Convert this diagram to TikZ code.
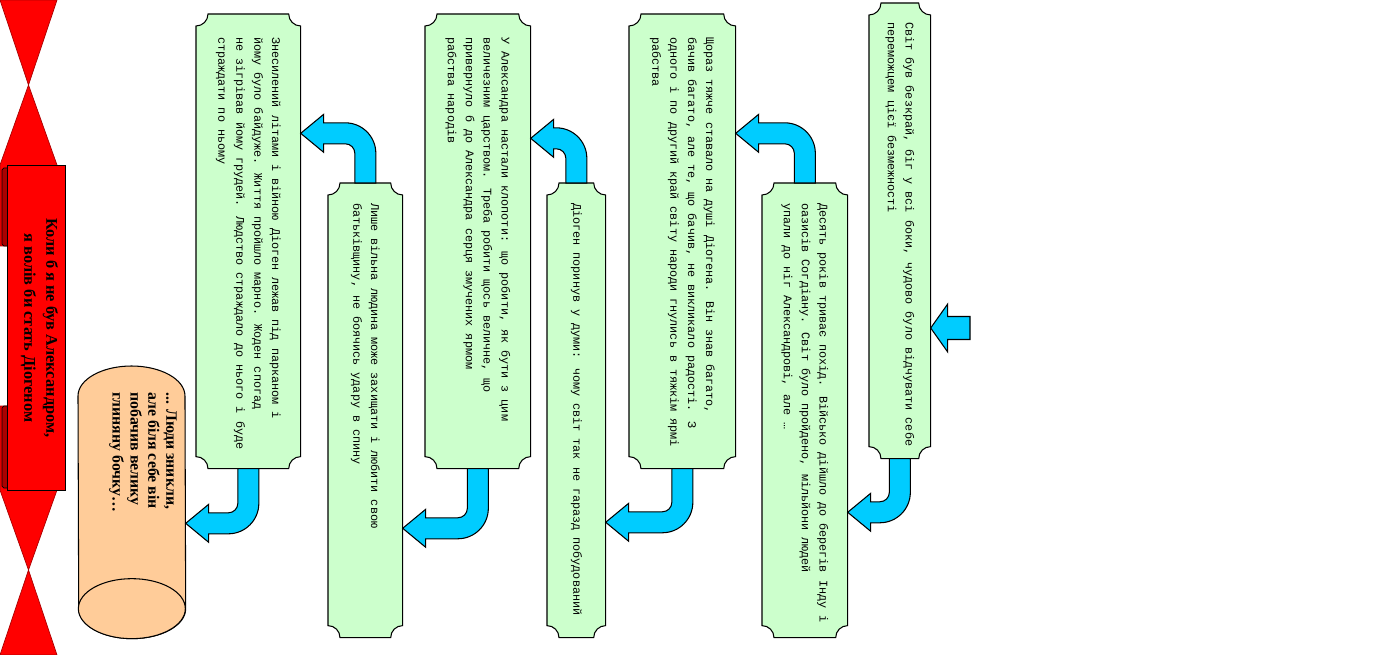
\documentclass[tikz,border=0pt]{standalone}
\usepackage{fontspec}
\setmainfont{Liberation Serif}
\newfontfamily\courfont{Liberation Mono}
\usetikzlibrary{calc}
\definecolor{boxgreen}{RGB}{204,255,204}
\definecolor{arrowcyan}{RGB}{0,204,255}
\definecolor{ribbonred}{RGB}{255,0,0}
\definecolor{folddark}{RGB}{170,0,0}
\definecolor{barrelpeach}{RGB}{255,204,153}
\newcommand{\plaqr}{0.24cm}
\newcommand{\awid}{0.21cm}
\newcommand{\ahead}{0.38cm}
\newcommand{\alen}{0.46cm}
\newcommand{\abend}{0.40cm}
\tikzset{
  plaque/.style={rectangle,inner sep=0pt,anchor=north west},
  plaqueline/.style={draw=black,fill=boxgreen,line width=0.6pt},
  boxtext/.style={rotate=-90,anchor=west,align=left,inner sep=0pt,
    font=\courfont\fontsize{6.7}{10.2}\selectfont},
  blockarrow/.style={draw=black,fill=arrowcyan,line width=0.6pt},
  ribbon/.style={fill=ribbonred,draw=folddark,line width=0.4pt},
  foldtab/.style={fill=folddark,draw=black,line width=0.4pt,rounded corners=1pt},
  banner/.style={rectangle,fill=ribbonred,draw=black,line width=0.6pt,inner sep=0pt,anchor=north west},
  bannertext/.style={rotate=-90,align=center,inner sep=0pt,
    font=\bfseries\fontsize{9.3}{12.5}\selectfont},
  barrelline/.style={draw=black,fill=barrelpeach,line width=0.6pt},
  barreltext/.style={rotate=-90,anchor=west,align=left,inner sep=0pt,
    font=\bfseries\fontsize{9}{10.2}\selectfont}
}
% green plaque round a box node
\newcommand{\plaque}[1]{%
  \draw[plaqueline] ([yshift=-\plaqr]#1.north west) arc[start angle=-90,end angle=0,radius=\plaqr]
    -- ([xshift=-\plaqr]#1.north east) arc[start angle=180,end angle=270,radius=\plaqr]
    -- ([yshift=\plaqr]#1.south east) arc[start angle=90,end angle=180,radius=\plaqr]
    -- ([xshift=\plaqr]#1.south west) arc[start angle=0,end angle=90,radius=\plaqr]
    -- cycle;}
% bent block arrows: #1 start, #2 tip
\newcommand{\benddown}[2]{%
  \draw[blockarrow] let \p1=(#1), \p2=(#2) in
    (\x1+\awid,\y1) -- (\x1+\awid,\y2+\abend)
    arc[start angle=0,end angle=-90,radius=\abend+\awid]
    -- (\x2+\alen,\y2-\awid) -- (\x2+\alen,\y2-\ahead) -- (\x2,\y2)
    -- (\x2+\alen,\y2+\ahead) -- (\x2+\alen,\y2+\awid) -- (\x1-\abend,\y2+\awid)
    arc[start angle=-90,end angle=0,radius=\abend-\awid]
    -- (\x1-\awid,\y1) -- cycle;}
\newcommand{\bendup}[2]{%
  \draw[blockarrow] let \p1=(#1), \p2=(#2) in
    (\x1+\awid,\y1) -- (\x1+\awid,\y2-\abend)
    arc[start angle=0,end angle=90,radius=\abend+\awid]
    -- (\x2+\alen,\y2+\awid) -- (\x2+\alen,\y2+\ahead) -- (\x2,\y2)
    -- (\x2+\alen,\y2-\ahead) -- (\x2+\alen,\y2-\awid) -- (\x1-\abend,\y2-\awid)
    arc[start angle=90,end angle=0,radius=\abend-\awid]
    -- (\x1-\awid,\y1) -- cycle;}
\newcommand{\blockleft}[2]{%
  \draw[blockarrow] let \p1=(#1), \p2=(#2) in
    (\x1,\y1+0.23cm) -- (\x2+0.34cm,\y1+0.23cm) -- (\x2+0.34cm,\y2+0.48cm) -- (\x2,\y2)
    -- (\x2+0.34cm,\y2-0.48cm) -- (\x2+0.34cm,\y1-0.23cm) -- (\x1,\y1-0.23cm) -- cycle;}

\begin{document}
\begin{tikzpicture}[x=0.02cm,y=0.02cm]
  \useasboundingbox (0,0) rectangle (1386,-655);
  % ribbon
  \fill[ribbon] (0,0) -- (57,0) -- (28.5,-85) -- (57,-165) -- (57,-246) -- (0,-246)
    -- (0,-165) -- (28.5,-85) -- cycle;
  \fill[ribbon] (0,-655) -- (57,-655) -- (28.5,-570) -- (57,-490) -- (57,-406) -- (0,-406)
    -- (0,-490) -- (28.5,-570) -- cycle;
  \fill[foldtab] (2,-168) rectangle (10,-246);
  \fill[foldtab] (2,-406) rectangle (10,-488);
  \node[banner,minimum width=1.16cm,minimum height=6.5cm] (banner) at (7,-165) {};
  \node[bannertext] (bannerT) at ([xshift=0.06cm]banner.center)
    {Коли б я не був Александром,\\я волів би стать Діогеном};
  % barrel
  \node[plaque,minimum width=2.14cm,minimum height=5.44cm] (barrel) at (78,-366) {};
  \draw[barrelline] ([yshift=-0.6cm]barrel.north west)
    arc[start angle=180,end angle=0,x radius=1.07cm,y radius=0.6cm]
    -- ([yshift=0.6cm]barrel.south east)
    arc[start angle=0,end angle=-180,x radius=1.07cm,y radius=0.6cm] -- cycle;
  \draw[barrelline] ([yshift=0.6cm]barrel.south) ellipse[x radius=1.07cm,y radius=0.6cm];
  \node[barreltext] (barrelT) at (143,-392)
    {... Люди зникли,\\але біля себе він\\побачив велику\\глиняну бочку…};
  % boxes
  \node[plaque,minimum width=1.22cm,minimum height=9.1cm] (svit) at (869,-3) {};
  \node[plaque,minimum width=1.7cm,minimum height=9.08cm] (pokhid) at (762,-183) {};
  \node[plaque,minimum width=2.12cm,minimum height=9.08cm] (dusha) at (629,-14) {};
  \node[plaque,minimum width=1.16cm,minimum height=9.08cm] (dumy) at (547,-183) {};
  \node[plaque,minimum width=2.1cm,minimum height=9.08cm] (klopoty) at (425,-14) {};
  \node[plaque,minimum width=1.48cm,minimum height=9.08cm] (vilna) at (328,-183) {};
  \node[plaque,minimum width=2.08cm,minimum height=9.08cm] (znesyl) at (196,-14) {};
  \plaque{svit}
  \plaque{pokhid}
  \plaque{dusha}
  \plaque{dumy}
  \plaque{klopoty}
  \plaque{vilna}
  \plaque{znesyl}
  \node[boxtext] (svitT) at ([yshift=-0.38cm]svit.north)
    {Світ був безкрай, біг у всі боки, чудово було відчувати себе\\
     переможцем цієї безмежності};
  \node[boxtext] (pokhidT) at ([yshift=-0.4cm]pokhid.north)
    {Десять років триває похід. Військо дійшло до берегів Інду і\\
     оазисів Согдіану. Світ було пройдено, мільйони людей\\
     упали до ніг Александрові, але …};
  \node[boxtext] (dushaT) at ([yshift=-0.46cm]dusha.north)
    {Щораз тяжче ставало на душі Діогена. Він знав багато,\\
     бачив багато, але те, що бачив, не викликало радості. З\\
     одного і по другий край світу народи гнулись в тяжкім ярмі\\
     рабства};
  \node[boxtext] (dumyT) at ([yshift=-0.4cm]dumy.north)
    {Діоген поринув у думи: чому світ так не гаразд побудований};
  \node[boxtext] (klopotyT) at ([yshift=-0.46cm]klopoty.north)
    {У Александра настали клопоти: що робити, як бути з цим\\
     величезним царством. Треба робити щось величне, що\\
     привернуло б  до Александра серця змучених ярмом\\
     рабства народів};
  \node[boxtext] (vilnaT) at ([yshift=-0.4cm]vilna.north)
    {Лише вільна людина може захищати і любити свою\\
     батьківщину, не боячись удару в спину};
  \node[boxtext] (znesylT) at ([yshift=-0.46cm]znesyl.north)
    {Знесилений літами і війною Діоген лежав під парканом і\\
     йому було байдуже. Життя пройшло марно. Жоден спогад\\
     не зігрівав йому грудей. Людство страждало до нього і буде\\
     страждати по ньому};
  % arrows
  \coordinate (start) at (970,-328);
  \blockleft{start}{svit.east |- start}
  \benddown{svit.south}{[yshift=-2.04cm]pokhid.east}
  \bendup{pokhid.north}{[yshift=2.16cm]dusha.east}
  \benddown{dusha.south}{[yshift=-2.24cm]dumy.east}
  \bendup{dumy.north}{[yshift=2.06cm]klopoty.east}
  \benddown{klopoty.south}{[yshift=-2.36cm]vilna.east}
  \bendup{vilna.north}{[yshift=2.16cm]znesyl.east}
  \benddown{znesyl.south}{[yshift=-0.42cm]barrel.east}
\end{tikzpicture}
\end{document}
